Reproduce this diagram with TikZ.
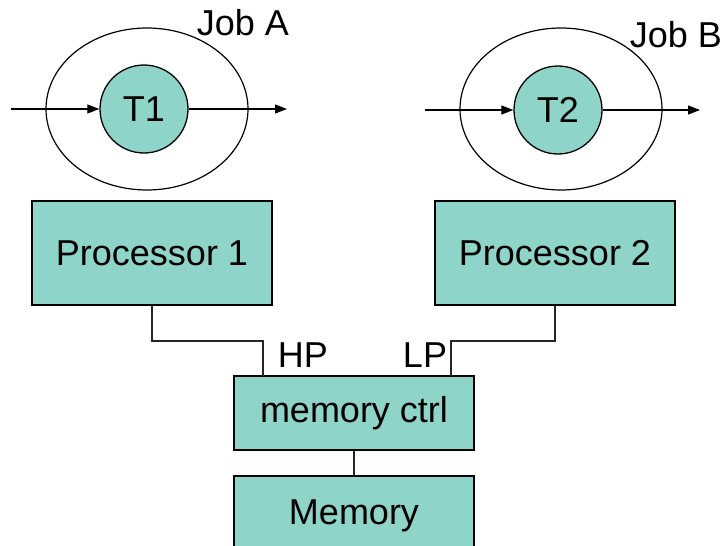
\documentclass[tikz,border=0pt]{standalone}
\usepackage{fontspec}
\setmainfont{Liberation Sans}
\usetikzlibrary{arrows.meta}
\definecolor{boxfill}{RGB}{143,212,200}
\begin{document}
\begin{tikzpicture}[x=1pt,y=-1pt,
  lbl/.style={font=\fontsize{36}{40}\selectfont, inner sep=0pt},
  unit/.style={draw=black, line width=1.3pt, fill=boxfill, inner sep=0pt,
    font=\fontsize{36}{40}\selectfont},
  task/.style={unit, circle, minimum size=88pt},
  flow/.style={line width=1.2pt, -{Triangle[length=12pt,width=9pt]}},
  wire/.style={line width=1.2pt, draw=black!85}]
\useasboundingbox (0,0) rectangle (724,546);
\clip (0,0) rectangle (724,546);

% job A with its task
\draw[line width=1.2pt] (147,109) ellipse [x radius=101, y radius=81];
\node[task] (t1) at (144,109) {T1};
\node[lbl] (joba) at (243,23) {Job A};
\coordinate (ain) at (11,109);
\coordinate (aout) at (287,109);
\draw[flow] (ain) -- (t1.west);
\draw[flow] (t1.east) -- (aout);

% job B with its task
\draw[line width=1.2pt] (561,109) ellipse [x radius=101, y radius=81];
\node[task] (t2) at (558,110) {T2};
\node[lbl] (jobb) at (676,35) {Job B};
\coordinate (bin) at (425,110);
\coordinate (bout) at (700,110);
\draw[flow] (bin) -- (t2.west);
\draw[flow] (t2.east) -- (bout);

% processors
\node[unit, minimum width=240pt, minimum height=104pt] (p1) at (152,253) {Processor 1};
\node[unit, minimum width=240pt, minimum height=104pt] (p2) at (555,253) {Processor 2};

% memory controller and memory
\node[unit, minimum width=240pt, minimum height=74pt] (mc) at (354,413) {memory ctrl};
\node[unit, minimum width=240pt, minimum height=100pt] (mem) at (354,526) {};
\node[lbl] (memtxt) at (354,516) {Memory};

% port labels
\node[lbl] (hp) at (303,355) {HP};
\node[lbl] (lp) at (425,355) {LP};

% wiring
\coordinate (hpin) at (263,376);
\coordinate (lpin) at (451,376);
\draw[wire] (p1.south) |- (263,341) -- (hpin);
\draw[wire] (p2.south) |- (451,341) -- (lpin);
\draw[wire] (mc.south) -- (mc.south |- mem.north);
\end{tikzpicture}
\end{document}
